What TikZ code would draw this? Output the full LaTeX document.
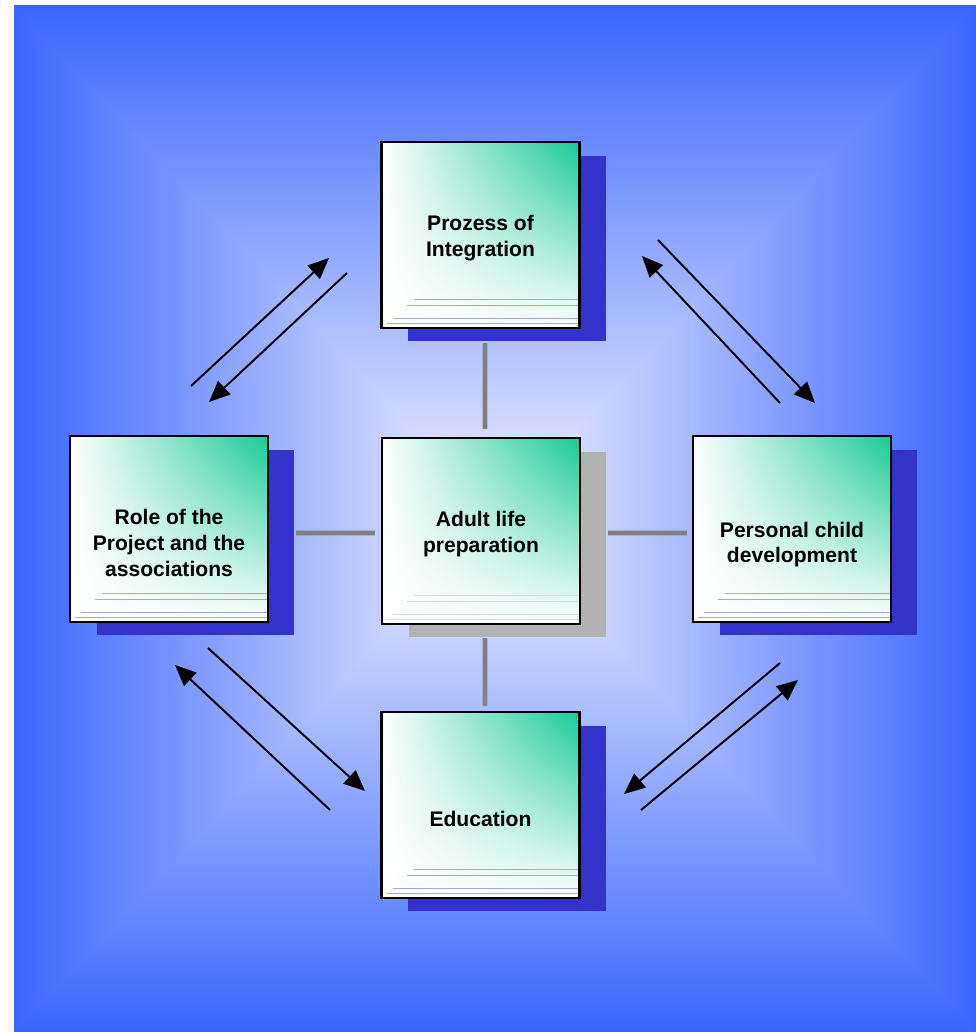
\documentclass[tikz,border=0pt]{standalone}
\usepackage{fontspec}
\setmainfont{Liberation Sans}
\usepackage{tikz}
\usetikzlibrary{positioning, shadows, fadings, arrows.meta}

\definecolor{bgblue}{RGB}{58,102,255}
\definecolor{bgmid}{RGB}{162,178,255}
\definecolor{bgwhite}{RGB}{242,242,255}
\definecolor{boxgreen}{RGB}{24,202,150}
\definecolor{shadowblue}{RGB}{51,51,204}
\definecolor{shadowgray}{RGB}{178,178,178}
\definecolor{linkgray}{RGB}{128,128,128}
\definecolor{lineblue}{RGB}{165,165,232}
\definecolor{linegray}{RGB}{214,220,224}

\begin{document}
\begin{tikzpicture}[x=0.02cm, y=-0.02cm,
    box/.style={draw=black, line width=1.2pt, minimum width=3.96cm, minimum height=3.72cm,
        inner sep=0pt,
        general shadow={fill=#1, shadow xshift=0.53cm, shadow yshift=-0.27cm},
        path picture={
            \shade[left color=white, right color=boxgreen]
                (path picture bounding box.south west) rectangle (path picture bounding box.north east);
            \fill[white, path fading=north]
                (path picture bounding box.south west) rectangle (path picture bounding box.north east);
            \foreach \h/\s in {0.58/0.64, 0.46/0.5, 0.2/0.22, 0.1/0.1}
                \draw[boxline, line width=0.5pt] ([xshift=\s cm, yshift=\h cm]path picture bounding box.south west)
                    -- ([yshift=\h cm]path picture bounding box.south east);
        }},
    box/.default=shadowblue,
    boxline/.style={lineblue},
    boxtext/.style={font=\fontsize{12}{14.6}\selectfont\bfseries, align=center},
    link/.style={linkgray, line width=2.8pt},
    arr/.style={line width=1.1pt, -{Triangle[length=0.42cm, width=0.36cm]}}]

    \useasboundingbox (0,0) rectangle (976,1032);
    % background
    \shade[left color=bgblue, middle color=bgmid, right color=bgwhite] (14,5) rectangle (495,1032);
    \shade[right color=bgblue, middle color=bgmid, left color=bgwhite] (495,5) rectangle (976,1032);
    \shade[top color=bgblue, middle color=bgmid, bottom color=bgwhite] (14,5) -- (976,5) -- (495,518) -- cycle;
    \shade[bottom color=bgblue, middle color=bgmid, top color=bgwhite] (14,1032) -- (976,1032) -- (495,518) -- cycle;

    % boxes
    \node[box] (prozess) at (480.5,235) {};
    \node[box=shadowgray, boxline/.style={linegray}] (adult) at (481,531) {};
    \node[box] (role) at (169,529) {};
    \node[box] (personal) at (792,529) {};
    \node[box] (education) at (480.5,805) {};

    \node[boxtext] (prozesstext) at ([yshift=-0.06cm]prozess.center) {Prozess of\\Integration};
    \node[boxtext] (adulttext) at ([yshift=-0.06cm]adult.center) {Adult life\\preparation};
    \node[boxtext] (roletext) at ([yshift=-0.28cm]role.center) {Role of the\\Project and the\\associations};
    \node[boxtext] (personaltext) at ([yshift=-0.31cm]personal.center) {Personal child\\development};
    \node[boxtext] (educationtext) at ([yshift=-0.28cm]education.center) {Education};

    % links to the centre
    \draw[link] ([xshift=0.09cm, yshift=-0.28cm]prozess.south) -- ([xshift=0.08cm, yshift=0.16cm]adult.north);
    \draw[link] ([xshift=0.08cm, yshift=-0.26cm]adult.south) -- ([xshift=0.09cm, yshift=0.1cm]education.north);
    \draw[link] ([xshift=0.54cm, yshift=-0.08cm]role.east) -- ([xshift=-0.12cm, yshift=-0.04cm]adult.west);
    \draw[link] ([xshift=0.54cm, yshift=-0.04cm]adult.east) -- ([xshift=-0.1cm, yshift=-0.08cm]personal.west);

    % arrows
    \coordinate (ul1) at (191,386);
    \coordinate (ul2) at (329,258);
    \coordinate (ul3) at (347,273);
    \coordinate (ul4) at (209,402);
    \coordinate (ur1) at (658,240);
    \coordinate (ur2) at (815,403);
    \coordinate (ur3) at (780,403);
    \coordinate (ur4) at (642,256);
    \coordinate (ll1) at (208,648);
    \coordinate (ll2) at (365,791);
    \coordinate (ll3) at (330,810);
    \coordinate (ll4) at (175,665);
    \coordinate (lr1) at (780,663);
    \coordinate (lr2) at (624,794);
    \coordinate (lr3) at (641,810);
    \coordinate (lr4) at (798,680);

    \draw[arr] (ul1) -- (ul2);
    \draw[arr] (ul3) -- (ul4);
    \draw[arr] (ur1) -- (ur2);
    \draw[arr] (ur3) -- (ur4);
    \draw[arr] (ll1) -- (ll2);
    \draw[arr] (ll3) -- (ll4);
    \draw[arr] (lr1) -- (lr2);
    \draw[arr] (lr3) -- (lr4);
\end{tikzpicture}
\end{document}
